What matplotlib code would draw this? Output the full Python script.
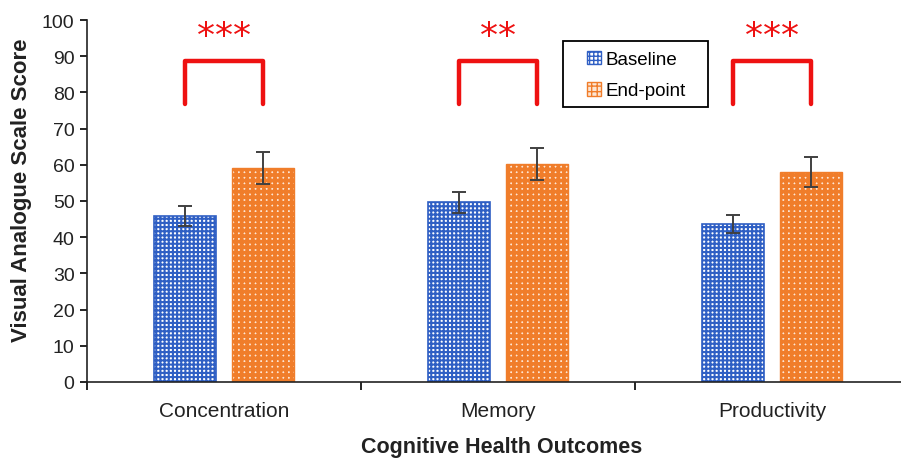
import matplotlib
matplotlib.use("Agg")
import matplotlib.pyplot as plt
import numpy as np
from matplotlib.patches import Patch, Rectangle

categories = ["Concentration", "Memory", "Productivity"]
baseline = [45.8, 49.7, 43.6]
baseline_err = [2.8, 2.9, 2.5]
endpoint = [59.1, 60.2, 58.0]
endpoint_err = [4.3, 4.4, 4.2]
stars = ["***", "**", "***"]

plt.rcParams['font.family'] = ['Liberation Sans', 'DejaVu Sans']

blue = '#2f5fc4'
orange = '#f07d2a'

fig = plt.figure(figsize=(9.01, 4.60), dpi=100)
ax = fig.add_axes([87/901, 77/460, 822/901, 362/460])

x = np.arange(len(categories))
w = 0.226
off = 0.144

# baseline: blue checker
with plt.rc_context({'hatch.linewidth': 1.5}):
    ax.bar(x - off, baseline, w, facecolor='white', edgecolor=blue, hatch='++++', linewidth=1.2, zorder=2)
    h_base = Patch(facecolor='white', edgecolor=blue, hatch='++++', label='Baseline')
# endpoint: orange with pale squares
with plt.rc_context({'hatch.linewidth': 2.7}):
    ax.bar(x + off, endpoint, w, facecolor='#fde6d4', edgecolor=orange, hatch='+++', linewidth=1.0, zorder=2)
    h_end = Patch(facecolor='#fde6d4', edgecolor=orange, hatch='+++', label='End-point')

ax.errorbar(x - off, baseline, yerr=baseline_err, fmt='none', ecolor='#404040', elinewidth=1.4, capsize=5, capthick=1.4, zorder=5)
ax.errorbar(x + off, endpoint, yerr=endpoint_err, fmt='none', ecolor='#404040', elinewidth=1.4, capsize=5, capthick=1.4, zorder=5)

# significance brackets
for i, s in enumerate(stars):
    ax.plot([i - off, i - off, i + off, i + off], [76.8, 88.7, 88.7, 76.8], color='#ee1111', lw=3.2,
            solid_joinstyle='round', solid_capstyle='round', zorder=6)
    n = len(s)
    for k in range(n):
        dx = (k - (n - 1) / 2) * 13
        ax.annotate('*', xy=(i, 95.6), xytext=(dx, 0), textcoords='offset points', color='#ee1111',
                    ha='center', va='center', fontsize=26, family='DejaVu Sans')

ax.set_xlim(-0.5, 2.5)
ax.set_ylim(0, 100)
ax.set_yticks(np.arange(0, 101, 10))
ax.tick_params(axis='y', labelsize=14, direction='out', length=5, width=1.2, labelcolor='#222222', pad=4)
ax.set_xticks([-0.5, 0.5, 1.5, 2.5])
ax.set_xticklabels([])
ax.tick_params(axis='x', which='major', direction='out', length=6, width=1.2)
ax.set_xticks(x, minor=True)
ax.set_xticklabels(categories, minor=True)
ax.tick_params(axis='x', which='minor', length=0, labelsize=15, pad=14, labelcolor='#222222')

for sp in ['top', 'right']:
    ax.spines[sp].set_visible(False)
for sp in ['left', 'bottom']:
    ax.spines[sp].set_linewidth(1.2)
    ax.spines[sp].set_color('#222222')

ax.set_ylabel('Visual Analogue Scale Score', fontsize=16, fontweight='bold', color='#222222')
ax.yaxis.set_label_coords(-55/822, 0.533)
fig.text(502/901, 1 - 448/460, 'Cognitive Health Outcomes', fontsize=15.5, fontweight='bold', color='#222222',
         ha='center', va='center')

# legend frame box
fig.patches.append(Rectangle((563/901, 1 - 108/460), 145/901, 66/460, transform=fig.transFigure,
                             facecolor='white', edgecolor='black', linewidth=1.3, zorder=7))
leg = fig.legend(handles=[h_base, h_end], loc='center', bbox_to_anchor=(636/901, 1 - 76/460), fontsize=13.5,
                 frameon=False, handlelength=0.75, handleheight=0.75, handletextpad=0.25,
                 labelspacing=0.75, borderpad=0, borderaxespad=0)
leg.set_zorder(8)

fig.savefig('out.png', dpi=100)
